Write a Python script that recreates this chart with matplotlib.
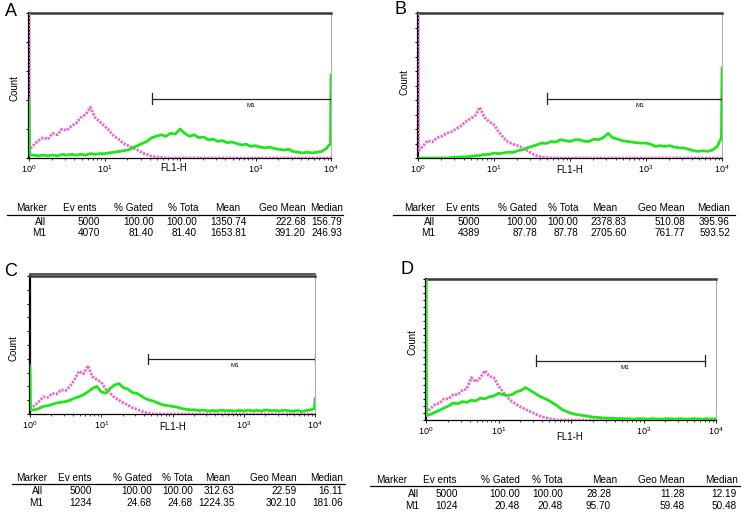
import numpy as np
import matplotlib
matplotlib.use("Agg")
import matplotlib.pyplot as plt
from matplotlib.ticker import FixedLocator, LogLocator, NullFormatter

plt.rcParams['font.family'] = ['Liberation Sans', 'DejaVu Sans']
plt.rcParams['mathtext.fontset'] = 'custom'
plt.rcParams['mathtext.rm'] = 'Liberation Sans'

W, H = 745, 522

# histogram channels (1024 channels over 4 decades), first/last bins kept for edge spikes
channels = [0, 2] + list(range(16, 1009, 16)) + [1022, 1024]

# counts, 0..100 = full height of each panel
green_a = [40, 2,
           2, 1.5, 2, 1.5, 2, 1.5, 2.5, 2, 2.5, 2, 2.5, 2, 3, 2.5, 3, 3,
           3.5, 4, 4.5, 5, 5.5, 7, 8.5, 10, 11.5, 14, 15, 16, 15, 17, 16.5, 20,
           17, 15, 16, 14, 14.5, 12.5, 13, 11.5, 12, 10.5, 11, 10, 9, 9.5, 8, 8.5,
           7.5, 7, 7.5, 6.5, 6, 5.5, 6, 4.5, 4, 3.5, 4, 3.5, 4, 4.5, 6.5,
           10, 57]
pink_a = [120, 6,
          9, 12, 14, 13, 17, 16, 20, 19, 22, 24, 28, 30, 35, 28, 25, 22,
          19, 15, 13, 10, 8.5, 7, 5.5, 3.5, 2.5, 1.2, 0.8, 0.5, 0, 0, 0, 0,
          0, 0, 0, 0, 0, 0, 0, 0, 0, 0, 0, 0, 0, 0, 0, 0,
          0, 0, 0, 0, 0, 0, 0, 0, 0, 0, 0, 0, 0, 0, 0,
          0, 0]

green_b = [0, 0,
           0, 0, 0, 0, 0, 0, 0.3, 0.5, 0.7, 0.8, 1, 1.5, 1.8, 2.3, 2.5, 3.4,
           3, 3.5, 4, 3.8, 5, 5.7, 7, 8, 9, 10.3, 10, 11.4, 11, 12.6, 12, 11.4,
           12.5, 12.6, 11.5, 11.4, 13, 12.6, 14, 17, 14, 13, 12, 11.4, 11, 10.5, 10.3, 10.3,
           9.5, 8, 8.5, 8, 8.5, 7.5, 7, 6.9, 6, 5, 4.6, 5, 4.6, 5.5, 8,
           14, 62]
pink_b = [120, 5,
          8, 12, 11, 14, 15, 17, 18, 20, 22, 25, 27, 29, 35, 28, 25, 23,
          18, 14, 11, 9.5, 8.5, 7, 5, 3, 1.5, 0.7, 0.3, 0, 0, 0, 0, 0,
          0, 0, 0, 0, 0, 0, 0, 0, 0, 0, 0, 0, 0, 0, 0, 0,
          0, 0, 0, 0, 0, 0, 0, 0, 0, 0, 0, 0, 0, 0, 0,
          0, 0]

green_c = [35, 3,
           3, 4, 5.5, 6, 7, 8, 8.5, 9, 10, 11.5, 12.5, 14, 16, 18.5, 20, 16,
           15, 18.5, 21, 22, 19, 18, 15.5, 15, 13, 11, 10, 9, 7.5, 6.5, 6, 5.5,
           5, 4, 3.5, 3, 3, 2.5, 2.8, 2.2, 2.5, 2.2, 2.8, 2.3, 2.5, 2.2, 2.6, 2.2,
           2.8, 2.3, 2.6, 2.2, 3, 2.4, 2.6, 2.2, 2.8, 2.4, 2, 2.6, 1.8, 2.5, 3,
           4, 11]
pink_c = [4, 5,
          6, 9, 12.5, 12, 15, 14.5, 17.5, 17, 20, 25, 31, 29, 35, 27, 25, 23,
          18, 15, 12, 10, 8, 6.5, 4.5, 3.5, 2, 1, 0.5, 0, 0, 0, 0, 0,
          0, 0, 0, 0, 0, 0, 0, 0, 0, 0, 0, 0, 0, 0, 0, 0,
          0, 0, 0, 0, 0, 0, 0, 0, 0, 0, 0, 0, 0, 0, 0,
          0, 0]

green_d = [120, 3,
           4, 5.5, 7, 8.5, 10, 12, 11.5, 13, 12.5, 14, 13.5, 15.5, 15, 16.5, 17, 19,
           18, 17.5, 18, 20, 21, 23, 21, 19, 17, 15.5, 14, 12, 10, 7.5, 6, 4.8,
           4, 3.5, 3, 2.5, 2, 1.8, 1.5, 1.3, 1.2, 1, 1, 0.9, 0.8, 0.6, 1, 0.8,
           0.6, 1, 0.7, 0.6, 1, 0.8, 0.6, 0.9, 0.7, 0.6, 1, 0.7, 0.6, 0.9, 0.7,
           0.8, 0.8]
pink_d = [5, 6,
          8, 11, 12, 15, 15, 18, 18, 21, 22, 30, 27, 30, 35, 31, 30, 24,
          20, 16, 13, 11, 9, 7.5, 6, 4.5, 3, 2, 1.2, 0.5, 0, 0, 0, 0,
          0, 0, 0, 0, 0, 0, 0, 0, 0, 0, 0, 0, 0, 0, 0, 0,
          0, 0, 0, 0, 0, 0, 0, 0, 0, 0, 0, 0, 0, 0, 0,
          0, 0]

panel_names = ['A', 'B', 'C', 'D']
m1_start = [42, 50, 45, 33]
m1_end = [10000, 10000, 10000, 7100]
m1_level = [41, 41, 40, 42]

# statistics tables
headers = ['Marker', 'Ev ents', '% Gated', '% Tota', 'Mean', 'Geo Mean', 'Median']
events_all = [5000, 5000, 5000, 5000]
events_m1 = [4070, 4389, 1234, 1024]
gated_all = [100.00, 100.00, 100.00, 100.00]
gated_m1 = [81.40, 87.78, 24.68, 20.48]
total_all = [100.00, 100.00, 100.00, 100.00]
total_m1 = [81.40, 87.78, 24.68, 20.48]
mean_all = [1350.74, 2378.83, 312.63, 28.28]
mean_m1 = [1653.81, 2705.60, 1224.35, 95.70]
geo_all = [222.68, 510.08, 22.59, 11.28]
geo_m1 = [391.20, 761.77, 302.10, 59.48]
median_all = [156.79, 395.96, 16.11, 12.19]
median_m1 = [246.93, 593.52, 181.06, 50.48]

GREEN = '#1fe61a'
PINK = '#f060d0'

fl1 = 10 ** (np.array(channels) / 256.0)
greens = [green_a, green_b, green_c, green_d]
pinks = [pink_a, pink_b, pink_c, pink_d]

# layout in pixels: (left, top, right, bottom)
boxes = [(29, 13, 331, 158), (418, 13, 722, 158), (30, 276, 315, 414), (426, 279, 716, 420)]
letter_pos = [(11, 12), (401, 10), (11, 272), (407, 270)]
count_pos = [(15, 88), (405, 82), (14, 348), (413, 342)]
xlabel_pos = [(174, 168), (570, 170), (173, 427), (570, 437)]
m1_text_x = [871, 835, 755, 550]
ytick_step = [20, 10, 10, 5]


def fig_box(l, t, r, b):
    return [l / W, 1 - b / H, (r - l) / W, (b - t) / H]


def ftext(x, y, s, **kw):
    fig.text(x / W, 1 - y / H, s, **kw)


fig = plt.figure(figsize=(W / 100, H / 100), dpi=100)

for i in range(4):
    ax = fig.add_axes(fig_box(*boxes[i]))
    ax.plot(fl1, pinks[i], color=PINK, lw=2.0, ls=(0, (0.8, 0.5)), zorder=3)
    ax.plot(fl1, greens[i], color=GREEN, lw=2.0, zorder=4)

    y = m1_level[i]
    ax.plot([m1_start[i], m1_end[i]], [y, y], color='#222222', lw=0.9, zorder=5)
    for xe in (m1_start[i], m1_end[i]):
        ax.plot([xe, xe], [y - 3.8, y + 3.8], color='#222222', lw=0.9, zorder=5)
    ax.text(m1_text_x[i], y - 5, 'M1', fontsize=4.5, ha='center', va='center')

    ax.set_xscale('log')
    ax.set_xlim(1, 1e4)
    ax.set_ylim(0, 100)

    ax.xaxis.set_major_locator(FixedLocator([1, 10, 100, 1000, 10000]))
    ax.set_xticklabels(['$10^{0}$', '$10^{1}$', '', '$10^{3}$', '$10^{4}$'])
    ax.xaxis.set_minor_locator(LogLocator(base=10, subs=range(2, 10)))
    ax.xaxis.set_minor_formatter(NullFormatter())
    ax.tick_params(axis='x', which='major', length=2, width=0.6, pad=1.5, labelsize=6.5)
    ax.tick_params(axis='x', which='minor', length=1.2, width=0.5)

    ax.set_yticks(np.arange(0, 101, ytick_step[i]))
    ax.tick_params(axis='y', length=2.5, width=0.8, labelleft=False)

    ax.spines['left'].set_linewidth(1.6)
    ax.spines['left'].set_color('black')
    ax.spines['bottom'].set_linewidth(0.9)
    ax.spines['top'].set_linewidth(1.8)
    ax.spines['top'].set_color('#3a3a3a')
    ax.spines['right'].set_linewidth(0.8)
    ax.spines['right'].set_color('#b0b0b0')
    if i == 2:
        ax.plot([0, 1], [1.018, 1.018], transform=ax.transAxes, color='#3a3a3a',
                lw=1.2, clip_on=False)

    ftext(*letter_pos[i], panel_names[i], fontsize=13, ha='center', va='center')
    ftext(*count_pos[i], 'Count', fontsize=7, rotation=90, ha='center', va='center')
    ftext(*xlabel_pos[i], 'FL1-H', fontsize=7, ha='center', va='center')

# tables
hdr_right = [[47, 97, 153, 198, 240, 306, 343],
             [435, 480, 537, 578, 617, 685, 730],
             [47, 92, 152, 193, 230, 297, 343],
             [407, 457, 520, 563, 617, 685, 738]]
val_right = [[46, 100, 154, 197, 247, 306, 342],
             [435, 480, 537, 578, 627, 685, 730],
             [43, 92, 152, 193, 235, 297, 343],
             [419, 458, 520, 563, 611, 685, 737]]
row_y = [(208, 215, 222, 233), (208, 215, 222, 233),
         (478, 484, 491, 503), (480, 486, 494, 506)]
line_x = [(7, 343), (393, 735), (12, 345), (370, 740)]

for i in range(4):
    yh, yl, ya, ym = row_y[i]
    for j, h in enumerate(headers):
        ftext(hdr_right[i][j], yh, h, fontsize=7.2, ha='right', va='center')
    fig.add_artist(plt.Line2D([line_x[i][0] / W, line_x[i][1] / W],
                              [1 - yl / H, 1 - yl / H], color='black', lw=0.9))
    row_all = ['All', f'{events_all[i]}', f'{gated_all[i]:.2f}', f'{total_all[i]:.2f}',
               f'{mean_all[i]:.2f}', f'{geo_all[i]:.2f}', f'{median_all[i]:.2f}']
    row_m1 = ['M1', f'{events_m1[i]}', f'{gated_m1[i]:.2f}', f'{total_m1[i]:.2f}',
              f'{mean_m1[i]:.2f}', f'{geo_m1[i]:.2f}', f'{median_m1[i]:.2f}']
    for j in range(7):
        ftext(val_right[i][j], ya, row_all[j], fontsize=7.2, ha='right', va='center')
        ftext(val_right[i][j], ym, row_m1[j], fontsize=7.2, ha='right', va='center')

fig.savefig('out.png', dpi=100)
